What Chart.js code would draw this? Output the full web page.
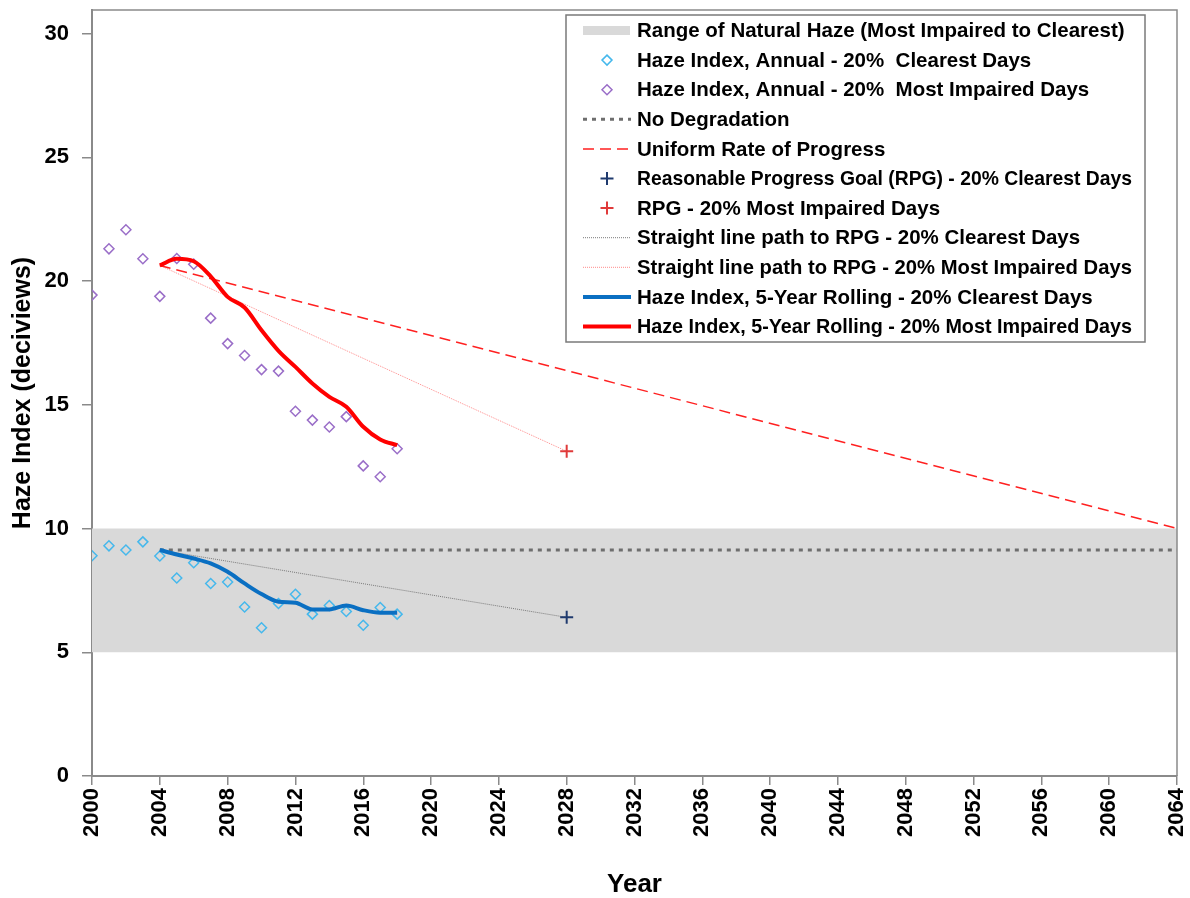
<!DOCTYPE html>
<html>
<head>
<meta charset="utf-8">
<script src="https://cdn.jsdelivr.net/npm/chart.js@4.4.0/dist/chart.umd.min.js"></script>
<style>
  html, body { margin: 0; padding: 0; background: #fff; }
  #wrap { width: 1190px; height: 898px; }
</style>
</head>
<body>
<div id="wrap"><canvas id="haze" width="1190" height="898"></canvas></div>
<script>
// annual haze index, 2000-2018
const annualYears = [2000, 2001, 2002, 2003, 2004, 2005, 2006, 2007, 2008, 2009,
                     2010, 2011, 2012, 2013, 2014, 2015, 2016, 2017, 2018];
const clearestAnnual = [8.90, 9.30, 9.13, 9.46, 8.89, 8.00, 8.62, 7.78, 7.84, 6.83,
                        5.99, 6.97, 7.34, 6.54, 6.89, 6.65, 6.09, 6.81, 6.54];
const impairedAnnual = [19.43, 21.30, 22.07, 20.90, 19.38, 20.91, 20.68, 18.50, 17.47, 16.99,
                        16.42, 16.36, 14.74, 14.38, 14.10, 14.52, 12.53, 12.09, 13.22];

// 5-year rolling averages, 2004-2018
const rollingYears = [2004, 2005, 2006, 2007, 2008, 2009, 2010, 2011, 2012, 2013,
                      2014, 2015, 2016, 2017, 2018];
const clearestRolling = [9.13, 8.95, 8.79, 8.59, 8.25, 7.78, 7.35, 7.04, 7.00, 6.73,
                         6.73, 6.89, 6.70, 6.60, 6.60];
const impairedRolling = [20.63, 20.90, 20.80, 20.19, 19.36, 18.93, 18.01, 17.18, 16.53, 15.86,
                         15.32, 14.92, 14.11, 13.60, 13.37];

// reference lines
const rangeYears = [2000, 2064];
const naturalRange = [5, 10];
const lineYears = [2004, 2064];
const noDegradation = [9.13, 9.13];
const uniformProgress = [20.63, 10.0];
const rpgYears = [2028];
const rpgClearest = [6.41];
const rpgImpaired = [13.12];
const pathYears = [2004, 2028];
const pathClearest = [9.13, 6.41];
const pathImpaired = [20.63, 13.12];

const yTicks = [0, 5, 10, 15, 20, 25, 30];

const pts = (xs, ys) => xs.map((x, i) => ({ x: x, y: ys[i] }));

const FONT = '"Liberation Sans", Arial, sans-serif';

function noPad(s) {
    s.paddingTop = 0;
    s.paddingBottom = 0;
    s.paddingLeft = 0;
    s.paddingRight = 0;
}

// plot frame (top and right edges)
const frame = {
    id: 'frame',
    afterDatasetsDraw(chart) {
        const a = chart.chartArea;
        const ctx = chart.ctx;
        ctx.save();
        ctx.strokeStyle = '#8a8a8a';
        ctx.lineWidth = 1.5;
        ctx.beginPath();
        ctx.moveTo(a.left, a.top);
        ctx.lineTo(a.right, a.top);
        ctx.lineTo(a.right, a.bottom);
        ctx.stroke();
        ctx.restore();
    }
};

// legend inside the plot
const legendBox = {
    id: 'legendBox',
    afterDraw(chart) {
        const ctx = chart.ctx;
        const x0 = 566, y0 = 15, w = 579, h = 327;
        ctx.save();
        ctx.fillStyle = '#fff';
        ctx.fillRect(x0, y0, w, h);
        ctx.strokeStyle = '#7a7a7a';
        ctx.lineWidth = 1.5;
        ctx.strokeRect(x0, y0, w, h);
        ctx.font = 'bold 20.5px ' + FONT;
        ctx.textBaseline = 'middle';
        chart.data.datasets.forEach((ds, i) => {
            const y = 30.5 + i * 29.6;
            ctx.save();
            if (ds.fill) {
                ctx.fillStyle = ds.backgroundColor;
                ctx.fillRect(583, y - 4.5, 47, 9);
            } else if (ds.showLine === false) {
                ctx.strokeStyle = ds.borderColor;
                ctx.lineWidth = ds.pointBorderWidth;
                ctx.beginPath();
                const r = ds.pointRadius;
                const cx = 607;
                if (ds.pointStyle === 'rectRot') {
                    ctx.fillStyle = '#fff';
                    ctx.moveTo(cx, y - r);
                    ctx.lineTo(cx + r, y);
                    ctx.lineTo(cx, y + r);
                    ctx.lineTo(cx - r, y);
                    ctx.closePath();
                    ctx.fill();
                } else {
                    ctx.moveTo(cx - r, y);
                    ctx.lineTo(cx + r, y);
                    ctx.moveTo(cx, y - r);
                    ctx.lineTo(cx, y + r);
                }
                ctx.stroke();
            } else {
                ctx.strokeStyle = ds.borderColor;
                ctx.lineWidth = ds.borderWidth;
                ctx.setLineDash(ds.borderDash || []);
                ctx.beginPath();
                ctx.moveTo(583, y);
                ctx.lineTo(631, y);
                ctx.stroke();
            }
            ctx.restore();
            ctx.fillStyle = '#000';
            // keep long labels inside the box
            ctx.fillText(ds.label, 637, y + 1, 495);
        });
        ctx.restore();
    }
};

new Chart(document.getElementById('haze'), {
    type: 'line',
    data: {
        datasets: [
            {
                label: 'Range of Natural Haze (Most Impaired to Clearest)',
                data: pts(rangeYears, [naturalRange[1], naturalRange[1]]),
                fill: { value: naturalRange[0] },
                backgroundColor: '#d9d9d9',
                borderWidth: 0,
                pointRadius: 0,
                order: 10
            },
            {
                label: 'Haze Index, Annual - 20%  Clearest Days',
                data: pts(annualYears, clearestAnnual),
                showLine: false,
                pointStyle: 'rectRot',
                pointRadius: 5,
                pointBorderWidth: 1.5,
                borderColor: '#45b8ec',
                pointBackgroundColor: 'rgba(255,255,255,0)',
                order: 5
            },
            {
                label: 'Haze Index, Annual - 20%  Most Impaired Days',
                data: pts(annualYears, impairedAnnual),
                showLine: false,
                pointStyle: 'rectRot',
                pointRadius: 5,
                pointBorderWidth: 1.5,
                borderColor: '#9a6ec8',
                pointBackgroundColor: 'rgba(255,255,255,0)',
                order: 5
            },
            {
                label: 'No Degradation',
                data: pts(lineYears, noDegradation),
                borderColor: '#6e6e6e',
                borderWidth: 3,
                borderDash: [4, 5],
                pointRadius: 0,
                order: 9
            },
            {
                label: 'Uniform Rate of Progress',
                data: pts(lineYears, uniformProgress),
                borderColor: '#ff2020',
                borderWidth: 1.5,
                borderDash: [11, 6],
                pointRadius: 0,
                order: 7
            },
            {
                label: 'Reasonable Progress Goal (RPG) - 20% Clearest Days',
                data: pts(rpgYears, rpgClearest),
                showLine: false,
                pointStyle: 'cross',
                pointRadius: 6.5,
                pointBorderWidth: 2,
                borderColor: '#1f3a6e',
                order: 1
            },
            {
                label: 'RPG - 20% Most Impaired Days',
                data: pts(rpgYears, rpgImpaired),
                showLine: false,
                pointStyle: 'cross',
                pointRadius: 6.5,
                pointBorderWidth: 2,
                borderColor: '#e03a3a',
                order: 1
            },
            {
                label: 'Straight line path to RPG - 20% Clearest Days',
                data: pts(pathYears, pathClearest),
                borderColor: '#7a7a7a',
                borderWidth: 1,
                borderDash: [1, 1],
                pointRadius: 0,
                order: 8
            },
            {
                label: 'Straight line path to RPG - 20% Most Impaired Days',
                data: pts(pathYears, pathImpaired),
                borderColor: '#ff8a8a',
                borderWidth: 1,
                borderDash: [1, 1],
                pointRadius: 0,
                order: 8
            },
            {
                label: 'Haze Index, 5-Year Rolling - 20% Clearest Days',
                data: pts(rollingYears, clearestRolling),
                borderColor: '#0a6fc2',
                borderWidth: 4,
                pointRadius: 0,
                cubicInterpolationMode: 'monotone',
                order: 2
            },
            {
                label: 'Haze Index, 5-Year Rolling - 20% Most Impaired Days',
                data: pts(rollingYears, impairedRolling),
                borderColor: '#ff0000',
                borderWidth: 4,
                pointRadius: 0,
                cubicInterpolationMode: 'monotone',
                order: 2
            }
        ]
    },
    options: {
        responsive: false,
        animation: false,
        devicePixelRatio: 1,
        layout: { padding: { top: 10, right: 13, left: 0, bottom: 0 } },
        plugins: {
            legend: { display: false },
            tooltip: { enabled: false }
        },
        scales: {
            x: {
                type: 'linear',
                min: 2000,
                max: 2064,
                afterFit: s => { s.height = 122; noPad(s); },
                ticks: {
                    stepSize: 4,
                    minRotation: 90,
                    maxRotation: 90,
                    padding: 3,
                    color: '#000',
                    font: { family: FONT, size: 22, weight: 'bold', lineHeight: 1 },
                    callback: v => String(v)
                },
                grid: { drawOnChartArea: false, tickLength: 9, color: '#8a8a8a', lineWidth: 1.5 },
                border: { color: '#8a8a8a', width: 2 },
                title: {
                    display: true,
                    text: 'Year',
                    color: '#000',
                    padding: { top: 0, bottom: 0 },
                    font: { family: FONT, size: 26, weight: 'bold', lineHeight: 1 }
                }
            },
            y: {
                min: 0,
                max: 30.95,
                afterFit: s => { s.width = 92; noPad(s); },
                afterBuildTicks: s => { s.ticks = yTicks.map(v => ({ value: v })); },
                ticks: {
                    padding: 13,
                    color: '#000',
                    font: { family: FONT, size: 22, weight: 'bold', lineHeight: 0.9 },
                    callback: v => String(v)
                },
                grid: { drawOnChartArea: false, tickLength: 10, color: '#8a8a8a', lineWidth: 1.5 },
                border: { color: '#8a8a8a', width: 2 },
                title: {
                    display: true,
                    text: 'Haze Index (deciviews)',
                    color: '#000',
                    padding: { top: 8.5, bottom: 0 },
                    font: { family: FONT, size: 25, weight: 'bold' }
                }
            }
        }
    },
    plugins: [frame, legendBox]
});
</script>
</body>
</html>
